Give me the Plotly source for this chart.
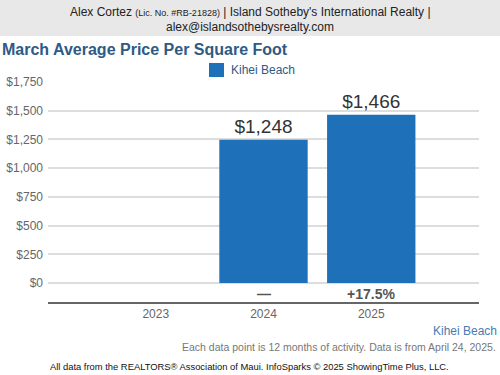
import plotly.graph_objects as go

years = ["2023", "2024", "2025"]
values = [None, 1248, 1466]
series_name = "Kihei Beach"
y_ticks = [0, 250, 500, 750, 1000, 1250, 1500, 1750]
y_tick_labels = ["$" + format(v, ",") for v in y_ticks]

# percent change labels
pct_labels = []
for i, v in enumerate(values):
    prev = values[i - 1] if i > 0 else None
    if v is None:
        pct_labels.append("")
    elif prev is None:
        pct_labels.append("—")
    else:
        pct_labels.append("{:+.1f}%".format((v - prev) / prev * 100))

FONT = "Liberation Sans, Arial, sans-serif"
BLUE = "#1e71b8"

L, R, T, B = 48, 21, 82, 73
PW, PH = 500.0 - L - R, 375.0 - T - B


def px(xp):
    return (xp - L) / PW


def py(yp):
    return (375 - B - yp) / PH


fig = go.Figure()
fig.add_trace(go.Bar(
    x=years, y=values, name=series_name,
    marker=dict(color=BLUE, line=dict(width=0)),
    width=0.82,
    text=["" if v is None else "$" + format(v, ",") for v in values],
    textposition="outside",
    constraintext="none",
    textfont=dict(size=19, color="#333333", family=FONT),
    cliponaxis=False,
    hoverinfo="skip",
    showlegend=False,
))

annotations = []
for i, lab in enumerate(pct_labels):
    if lab:
        annotations.append(dict(
            x=i, y=py(294), xref="x", yref="paper", text="<b>" + lab + "</b>",
            showarrow=False, font=dict(size=14, color="#555555", family=FONT),
            xanchor="center", yanchor="middle",
        ))

annotations += [
    dict(x=px(250), y=py(12), xref="paper", yref="paper", showarrow=False,
         xanchor="center", yanchor="middle",
         text="Alex Cortez <span style='font-size:9px'>(Lic. No. #RB-21828)</span> | Island Sotheby's International Realty |",
         font=dict(size=12, color="#222222", family=FONT)),
    dict(x=px(250), y=py(27), xref="paper", yref="paper", showarrow=False,
         xanchor="center", yanchor="middle", text="alex@islandsothebysrealty.com",
         font=dict(size=12, color="#222222", family=FONT)),
    dict(x=px(0), y=py(50), xref="paper", yref="paper", showarrow=False,
         xanchor="left", yanchor="middle", text="<b>March Average Price Per Square Foot</b>",
         font=dict(size=16, color="#2e5a85", family=FONT)),
    dict(x=px(229), y=py(70), xref="paper", yref="paper", showarrow=False,
         xanchor="left", yanchor="middle", text=series_name,
         font=dict(size=12, color="#2e5a85", family=FONT)),
    dict(x=px(499), y=py(331), xref="paper", yref="paper", showarrow=False,
         xanchor="right", yanchor="middle", text=series_name,
         font=dict(size=12, color="#4a7ab0", family=FONT)),
    dict(x=px(498), y=py(347), xref="paper", yref="paper", showarrow=False,
         xanchor="right", yanchor="middle",
         text="Each data point is 12 months of activity. Data is from April 24, 2025.",
         font=dict(size=10.5, color="#777777", family=FONT)),
    dict(x=px(249), y=py(366), xref="paper", yref="paper", showarrow=False,
         xanchor="center", yanchor="middle",
         text="All data from the REALTORS® Association of Maui. InfoSparks © 2025 ShowingTime Plus, LLC.",
         font=dict(size=9.4, color="#111111", family=FONT)),
]

shapes = [
    dict(type="rect", xref="paper", yref="paper", x0=px(0), x1=px(500),
         y0=py(36), y1=py(0), line=dict(width=0), fillcolor="#e8e8e8", layer="below"),
    dict(type="rect", xref="paper", yref="paper", x0=px(209), x1=px(224),
         y0=py(77), y1=py(63), line=dict(width=0), fillcolor=BLUE),
]

fig.update_layout(
    width=500, height=375, autosize=False,
    margin=dict(l=L, r=R, t=T, b=B, autoexpand=False),
    paper_bgcolor="white", plot_bgcolor="white",
    font=dict(family=FONT, color="#666666", size=13),
    showlegend=False,
    xaxis=dict(range=[-1, 3], type="category", showgrid=False,
               showline=True, linecolor="#666666", linewidth=1.5,
               ticks="", tickfont=dict(size=12, color="#666666"),
               fixedrange=True, automargin=False),
    yaxis=dict(range=[-165, 1750], tickvals=y_ticks, ticktext=y_tick_labels,
               showgrid=True, gridcolor="#dddddd", gridwidth=1.5,
               zeroline=False, showline=False, ticks="",
               ticklabelstandoff=4,
               tickfont=dict(size=12, color="#666666"), fixedrange=True,
               automargin=False),
    shapes=shapes,
    annotations=annotations,
)

fig.write_html("out.html", config={"displayModeBar": False},
               post_script="document.body.style.margin='0';")
